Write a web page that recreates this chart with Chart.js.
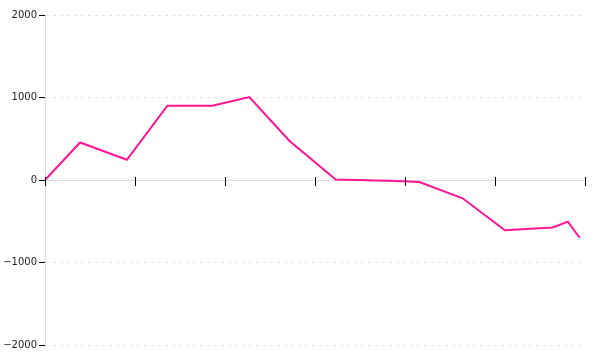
<!DOCTYPE html>
<html lang="en">
<head>
    <meta charset="utf-8" />
    <title>Line chart</title>
    <script src="https://cdn.jsdelivr.net/npm/chart.js"></script>
    <style>
        body { margin: 0; background: #fff; }
    </style>
</head>
<body>
    <canvas id="lineChart" width="600" height="360"></canvas>
    <script>
        // data
        const xValues = [0, 0.39, 0.91, 1.36, 1.86, 2.27, 2.72, 3.23, 3.91, 4.16, 4.64, 5.11, 5.64, 5.81, 5.94];
        const yValues = [0, 455, 245, 900, 900, 1005, 470, 5, -12, -24, -222, -610, -576, -505, -700];
        const yTicks = [-2000, -1000, 0, 1000, 2000];

        const points = xValues.map((x, i) => ({ x: x, y: yValues[i] }));

        // x tick marks crossing the axis line at y = 0
        const crossTicks = {
            id: 'crossTicks',
            afterDraw(chart) {
                const xs = chart.scales.x;
                const y0 = chart.scales.y.getPixelForValue(0);
                const c = chart.ctx;
                c.save();
                c.strokeStyle = '#000';
                c.lineWidth = 1;
                xs.ticks.forEach(t => {
                    const px = Math.round(xs.getPixelForValue(t.value)) + 0.5;
                    c.beginPath();
                    c.moveTo(px, y0 - 3);
                    c.lineTo(px, y0 + 6);
                    c.stroke();
                });
                c.restore();
            }
        };

        const ctx = document.getElementById('lineChart').getContext('2d');
        const lineChart = new Chart(ctx, {
            type: 'line',
            data: {
                datasets: [{
                    data: points,
                    borderColor: '#ff1493',
                    borderWidth: 2,
                    pointRadius: 0,
                    tension: 0,
                    fill: false
                }]
            },
            options: {
                responsive: false,
                animation: false,
                layout: { padding: { top: 15, right: 15, bottom: 15, left: 0 } },
                plugins: {
                    legend: { display: false },
                    tooltip: { enabled: false }
                },
                scales: {
                    x: {
                        type: 'linear',
                        position: { y: 0 },
                        min: 0,
                        max: 6,
                        ticks: { stepSize: 1, display: false },
                        grid: { display: true, drawOnChartArea: false, drawTicks: false },
                        border: { color: '#ddd', width: 1 }
                    },
                    y: {
                        min: -2000,
                        max: 2000,
                        afterFit(scale) { scale.width = 45; },
                        afterBuildTicks(scale) { scale.ticks = yTicks.map(v => ({ value: v })); },
                        ticks: {
                            padding: 2,
                            color: '#222',
                            font: { family: 'DejaVu Sans', size: 10 },
                            callback: v => String(v).replace('-', '\u2212')
                        },
                        grid: {
                            color: '#e3e3e3',
                            tickLength: 6,
                            tickColor: '#000',
                            tickBorderDash: []
                        },
                        border: { color: '#ddd', width: 1, dash: [3, 4] }
                    }
                }
            },
            plugins: [crossTicks]
        });
    </script>
</body>
</html>
